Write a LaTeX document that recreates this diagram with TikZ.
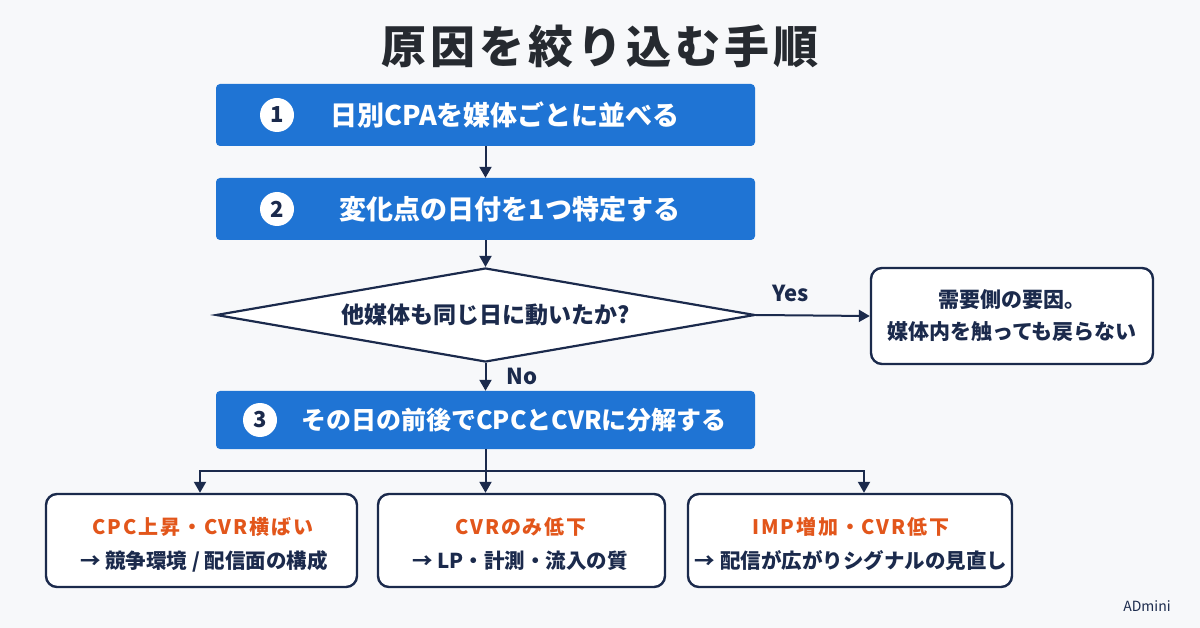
\documentclass[tikz,border=0pt]{standalone}
\usepackage{fontspec}
\setmainfont{Noto Sans CJK JP}
\usetikzlibrary{arrows.meta,shapes.geometric}
\definecolor{bgc}{HTML}{F7F8FA}
\definecolor{blueC}{HTML}{1F74D4}
\definecolor{navy}{HTML}{1B2A4C}
\definecolor{orangeC}{HTML}{E2561B}
\definecolor{titlec}{HTML}{262A30}
\newcommand{\fs}[1]{\fontsize{#1}{#1}\selectfont}
\tikzset{
  bluebox/.style={fill=blueC, rounded corners=4pt, minimum width=539pt, minimum height=62pt, inner sep=0pt},
  numc/.style={circle, fill=white, minimum size=34pt, inner sep=0pt, text=navy, font=\bfseries\fs{22}},
  btext/.style={text=white, font=\bfseries\fs{27}, inner sep=0pt},
  outbox/.style={draw=navy, line width=2.4pt, fill=white, rounded corners=11pt, inner sep=0pt},
  arr/.style={draw=navy, line width=2pt, -{Triangle[length=11pt,width=12pt]}},
  lbl/.style={text=navy, font=\bfseries\fs{22}, inner sep=0pt},
  otext/.style={text=orangeC, font=\bfseries\fs{20}\addfontfeature{LetterSpace=9}, inner sep=0pt},
  ntext/.style={text=navy, font=\bfseries\fs{20.5}, inner sep=0pt},
}
\begin{document}
\begin{tikzpicture}[x=1pt,y=-1pt]
\fill[bgc] (0,0) rectangle (1200,628);
\useasboundingbox (0,0) rectangle (1200,628);

\node[text=titlec, font=\bfseries\fs{45}\addfontfeature{LetterSpace=9}] (title) at (600,46) {原因を絞り込む手順};

\node[bluebox] (s1) at (485.5,115) {};
\node[numc] (n1) at (277,115) {1};
\node[btext] (t1) at (505,115) {日別CPAを媒体ごとに並べる};

\node[bluebox] (s2) at (485.5,209) {};
\node[numc] (n2) at (277,209) {2};
\node[btext] (t2) at (510,209) {変化点の日付を1つ特定する};

\node[diamond, draw=navy, line width=2.2pt, fill=white, aspect=5.73, minimum width=539pt, minimum height=94pt, inner sep=0pt, text=navy, font=\bfseries\fs{23}] (d) at (485.5,315) {他媒体も同じ日に動いたか?};

\node[outbox, minimum width=282pt, minimum height=96pt] (r) at (1012,316) {};
\node[text=navy, font=\bfseries\fs{21}, align=center, inner sep=0pt] (rt) at (1012,316) {需要側の要因。\\[11pt]媒体内を触っても戻らない};

\node[bluebox, minimum height=58pt] (s3) at (485.5,420) {};
\node[numc] (n3) at (260,420) {3};
\node[btext, font=\bfseries\fs{25}] (t3) at (514,420) {その日の前後でCPCとCVRに分解する};

\node[outbox, minimum width=311pt, minimum height=93pt] (bA) at (201.5,540.5) {};
\node[outbox, minimum width=287pt, minimum height=93pt] (bB) at (521.5,540.5) {};
\node[outbox, minimum width=324pt, minimum height=93pt] (bC) at (850,540.5) {};

\node[otext] (a1) at (203,527) {CPC上昇・CVR横ばい};
\node[ntext] (a2) at (204,561) {→ 競争環境 / 配信面の構成};
\node[otext] (b1) at (521,527) {CVRのみ低下};
\node[ntext] (b2) at (520,561) {→ LP・計測・流入の質};
\node[otext] (c1) at (851,527) {IMP増加・CVR低下};
\node[ntext] (c2) at (851,561) {→ 配信が広がりシグナルの見直し};

\draw[arr] (s1.south) -- (s2.north);
\draw[arr] (s2.south) -- (d.north);
\draw[arr] (d.east) -- (r.west) node[lbl, pos=0.3, above=12pt] (yes) {Yes};
\draw[arr] (d.south) -- (s3.north) node[lbl, midway, right=20pt] (no) {No};

\coordinate (j) at (485.5,471);
\coordinate (jl) at (200,471);
\coordinate (jr) at (864,471);
\draw[navy, line width=2pt] (s3.south) -- (j);
\draw[arr] (j) -- (j |- bB.north);
\draw[arr] (j) -- (jl) -- (jl |- bA.north);
\draw[arr] (j) -- (jr) -- (jr |- bC.north);

\node[text=navy, font=\fs{14}, inner sep=0pt] (logo) at (1147,606) {ADmini};
\end{tikzpicture}
\end{document}
